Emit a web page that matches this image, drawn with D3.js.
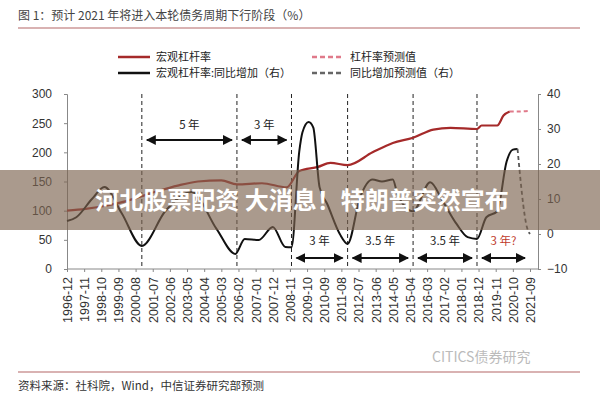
<!DOCTYPE html>
<html>
<head>
<meta charset="UTF-8">
<script src="https://cdn.jsdelivr.net/npm/d3@7"></script>
<style>
  body { margin: 0; background: #fff; }
  text { font-family: "Noto Sans CJK SC", "Liberation Sans", sans-serif; }
  .axis path, .axis line { stroke: #888; }
  .axis text { fill: #333; font-size: 12px; font-family: "Liberation Sans", sans-serif; }
  .vline { stroke: #222; stroke-width: 1; stroke-dasharray: 4,3; }
</style>
</head>
<body>
<script>
// months counted from 1996-12
var tickLabels = ["1996-12","1997-11","1998-10","1999-09","2000-08","2001-07","2002-06","2003-05","2004-04","2005-03","2006-02","2007-01","2007-12","2008-11","2009-10","2010-09","2011-08","2012-07","2013-06","2014-05","2015-04","2016-03","2017-02","2018-01","2018-12","2019-11","2020-10","2021-09"];
var levMonths = [0,12,24,36,48,60,71,84,99,109,125,141,149,161,169,180,196,209,222,235,246,263,266,276,280,284];
var levValues = [100,103,108,115,125,135,143,150,152,145,147,140,168,175,182,178,200,216,225,239,242,240,246,246,263,270];
var levFcMonths = [284,290,297];
var levFcValues = [270,270,271];
var yoyMonths = [0,6,16,24,35,48,63,80,96,108,114,123,132,140,144,149,151,155,158,162,167,175,180,188,196,202,209,212,222,233,241,250,257,263,269,276,282,286,289];
var yoyValues = [3.7,4.8,10,13.4,6,-3.4,6.5,12,1.4,-5.7,-1.4,-1.7,2,-3.7,-3.8,23.6,29,32,30.4,13.4,8.5,0,-2.8,10.5,15.6,15,15.6,11.4,6.5,14.8,9.4,2.8,-0.9,-1.4,4.8,6.5,20.7,24.1,24.3];
var yoyFcMonths = [289,295,297];
var yoyFcValues = [24.3,2,0];
var cycleMonths = [48,109,144,180,222,263];
var spansTop = [[48,109,"5 年"],[109,144,"3 年"]];
var spansBottom = [[144,180,"3 年"],[180,222,"3.5 年"],[222,263,"3.5 年"],[263,297,"3 年?"]];

var svg = d3.select("body").append("svg").attr("width", 600).attr("height", 400);
var x = d3.scaleLinear().domain([0, 297]).range([67, 530]);
var yL = d3.scaleLinear().domain([0, 300]).range([269, 94]);
var yR = d3.scaleLinear().domain([-10, 40]).range([269, 94]);

svg.append("text").attr("x", 18).attr("y", 20).attr("font-size", 12).attr("fill", "#444")
  .text("图 1：预计 2021 年将进入本轮债务周期下行阶段（%）");
svg.append("line").attr("x1", 18).attr("x2", 580).attr("y1", 28).attr("y2", 28).attr("stroke", "#c99").attr("stroke-width", 1.5);

// legend
var legend = [
  [118, 57, "#a52a2a", null, "宏观杠杆率"],
  [118, 73, "#111", null, "宏观杠杆率:同比增加（右）"],
  [312, 57, "#e07a8a", "5,3", "杠杆率预测值"],
  [312, 73, "#666", "5,3", "同比增加预测值（右）"]
];
legend.forEach(function(d) {
  svg.append("line").attr("x1", d[0]).attr("x2", d[0] + 32).attr("y1", d[1]).attr("y2", d[1])
    .attr("stroke", d[2]).attr("stroke-width", 2.5).attr("stroke-dasharray", d[3]);
  svg.append("text").attr("x", d[0] + 38).attr("y", d[1] + 4).attr("font-size", 11).attr("fill", "#222").text(d[4]);
});

svg.append("g").attr("class", "axis").attr("transform", "translate(67,0)")
  .call(d3.axisLeft(yL).tickValues([0,50,100,150,200,250,300]).tickSize(3).tickPadding(12));
svg.append("g").attr("class", "axis").attr("transform", "translate(538,0)")
  .call(d3.axisRight(yR).tickValues([-10,0,10,20,30,40]).tickSize(3).tickPadding(6));
var xAxis = svg.append("g").attr("class", "axis").attr("transform", "translate(0,269)")
  .call(d3.axisBottom(x).tickValues(tickLabels.map(function(d, i) { return i * 11; }))
    .tickFormat(function(d, i) { return tickLabels[i]; }).tickSize(3));
xAxis.select(".domain").attr("d", "M67,0H538");
xAxis.selectAll("text").attr("transform", "rotate(-90)").attr("text-anchor", "end")
  .attr("x", -8).attr("y", 0).attr("dy", "0.35em").style("font-size", "12.5px");

svg.selectAll(".vline").data(cycleMonths).enter().append("line").attr("class", "vline")
  .attr("x1", x).attr("x2", x).attr("y1", 94).attr("y2", 269);

var line = d3.line().curve(d3.curveMonotoneX);
function pts(ms, vs, ys) { return ms.map(function(m, i) { return [x(m), ys(vs[i])]; }); }
svg.append("path").attr("d", line(pts(levMonths, levValues, yL))).attr("fill", "none").attr("stroke", "#a52a2a").attr("stroke-width", 2.2);
svg.append("path").attr("d", line(pts(levFcMonths, levFcValues, yL))).attr("fill", "none").attr("stroke", "#e07a8a").attr("stroke-width", 2).attr("stroke-dasharray", "4,3");
svg.append("path").attr("d", line(pts(yoyMonths, yoyValues, yR))).attr("fill", "none").attr("stroke", "#111").attr("stroke-width", 2);
svg.append("path").attr("d", line(pts(yoyFcMonths, yoyFcValues, yR))).attr("fill", "none").attr("stroke", "#555").attr("stroke-width", 1.8).attr("stroke-dasharray", "4,3");

// arrows
svg.append("defs").append("marker").attr("id", "ah").attr("viewBox", "0 0 10 10").attr("refX", 9).attr("refY", 5)
  .attr("markerWidth", 5).attr("markerHeight", 5).attr("orient", "auto-start-reverse")
  .append("path").attr("d", "M0,0L10,5L0,10z").attr("fill", "#111");
function span(d, yLine, yText, color) {
  svg.append("line").attr("x1", x(d[0]) + 5).attr("x2", x(d[1]) - 5).attr("y1", yLine).attr("y2", yLine)
    .attr("stroke", "#111").attr("stroke-width", 2)
    .attr("marker-start", "url(#ah)").attr("marker-end", "url(#ah)");
  svg.append("text").attr("x", (x(d[0]) + x(d[1])) / 2).attr("y", yText).attr("text-anchor", "middle")
    .attr("font-size", 11.5).attr("fill", color).text(d[2]);
}
spansTop.forEach(function(d) { span(d, 140, 129, "#222"); });
spansBottom.forEach(function(d) { span(d, 258, 245, d[2] === "3 年?" ? "#c0392b" : "#222"); });

// banner overlay
svg.append("rect").attr("x", 0).attr("y", 170).attr("width", 600).attr("height", 60).attr("fill", "rgba(125,100,80,0.65)");
svg.append("text").attr("x", 302).attr("y", 209).attr("text-anchor", "middle").attr("font-size", 24)
  .attr("font-weight", "bold").attr("fill", "#fff").text("河北股票配资 大消息！特朗普突然宣布");

svg.append("text").attr("x", 432).attr("y", 362).attr("font-size", 14).attr("fill", "#bbb").text("CITICS债券研究");
svg.append("line").attr("x1", 18).attr("x2", 580).attr("y1", 372).attr("y2", 372).attr("stroke", "#c99").attr("stroke-width", 1.5);
svg.append("text").attr("x", 18).attr("y", 390).attr("font-size", 11.5).attr("fill", "#333").text("资料来源：社科院，Wind，中信证券研究部预测");
</script>
</body>
</html>
